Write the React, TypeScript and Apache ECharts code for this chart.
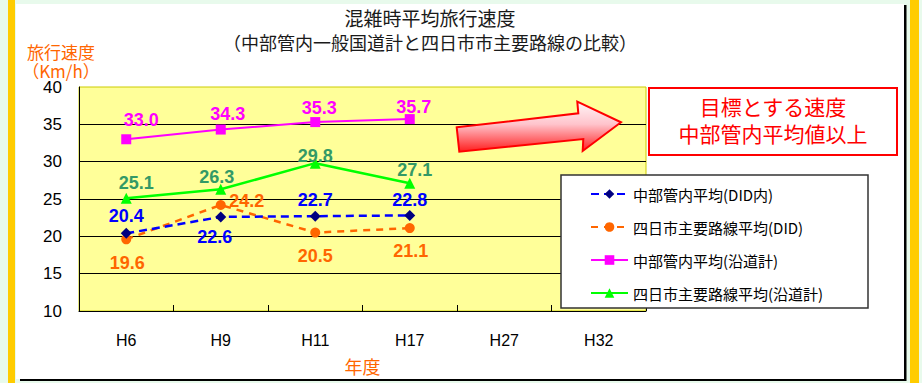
import React, { useEffect, useRef } from 'react';
import * as echarts from 'echarts';

const categories = ['H6', 'H9', 'H11', 'H17', 'H27', 'H32'];
const chubuDID = [20.4, 22.6, 22.7, 22.8];
const yokkaichiDID = [19.6, 24.2, 20.5, 21.1];
const chubuRoadside = [33.0, 34.3, 35.3, 35.7];
const yokkaichiRoadside = [25.1, 26.3, 29.8, 27.1];
const seriesNames = [
  '中部管内平均(DID内)',
  '四日市主要路線平均(DID)',
  '中部管内平均(沿道計)',
  '四日市主要路線平均(沿道計)',
];
const yMin = 10;
const yMax = 40;
const yInterval = 5;

const titleText = '混雑時平均旅行速度';
const subTitleText = '（中部管内一般国道計と四日市市主要路線の比較）';
const yNameText = '旅行速度\n（Km/h）';
const xName = '年度';
const targetText = '目標とする速度\n中部管内平均値以上';

// label offsets (pixels, relative to the marker centre)
const chubuDIDOffsets = [[0, -17], [-6, 20], [0, -16], [0, -15]];
const yokkaichiDIDOffsets = [[1, 24], [26, -4], [0, 23], [1, 23]];
const chubuRoadsideOffsets = [[15, -19], [7, -16], [4, -14], [4, -12]];
const yokkaichiRoadsideOffsets = [[10, -15], [-4, -12], [0, -7], [5, -13]];

const NUM = "'Liberation Sans', Arial, 'Noto Sans CJK JP', sans-serif";
const JP = "'Noto Sans CJK JP', 'Liberation Sans', sans-serif";

function mk(values: number[], offsets: number[][]) {
  return values.map((v, i) => ({ value: v, label: { offset: offsets[i] } }));
}

function labelCfg(color: string) {
  return {
    show: true,
    position: 'inside',
    color,
    fontSize: 18,
    fontWeight: 'bold',
    fontFamily: NUM,
    formatter: (p: any) => Number(p.value).toFixed(1),
  };
}

export default function App() {
  const ref = useRef<HTMLDivElement>(null);
  useEffect(() => {
    if (!ref.current) return;
    const chart = echarts.init(ref.current, null, { renderer: 'svg', width: 922, height: 383 });
    const arrowFill = new echarts.graphic.LinearGradient(0, 0, 0, 1, [
      { offset: 0, color: '#FFF6F8' },
      { offset: 0.45, color: '#FFC4CC' },
      { offset: 1, color: '#FF1E1E' },
    ]);
    chart.setOption({
      animation: false,
      backgroundColor: '#E8FAEC',
      title: [
        {
          text: titleText,
          left: 430,
          top: 8,
          textAlign: 'center',
          padding: 0,
          textStyle: { fontSize: 19, fontWeight: 'normal', color: '#1a1a1a', fontFamily: JP },
        },
        {
          text: subTitleText,
          left: 430,
          top: 33,
          textAlign: 'center',
          padding: 0,
          textStyle: { fontSize: 18, fontWeight: 'normal', color: '#1a1a1a', fontFamily: JP },
        },
      ],
      grid: {
        left: 79,
        top: 87,
        width: 567,
        height: 224,
        show: true,
        backgroundColor: '#FFFF99',
        borderColor: '#CCCC00',
        borderWidth: 1,
        containLabel: false,
      },
      legend: {
        orient: 'vertical',
        left: 590,
        top: 186,
        itemWidth: 37,
        itemHeight: 12,
        itemGap: 17,
        padding: 0,
        z: 20,
        data: seriesNames,
        textStyle: { fontSize: 15, lineHeight: 16, color: '#000', fontFamily: JP },
      },
      xAxis: {
        type: 'category',
        data: categories,
        boundaryGap: true,
        axisLine: { lineStyle: { color: '#000', width: 1 } },
        axisTick: { show: true, inside: true, length: 6, lineStyle: { color: '#000' } },
        axisLabel: { color: '#000', fontSize: 16, margin: 21, fontFamily: NUM },
        name: xName,
        nameLocation: 'middle',
        nameGap: 46,
        nameTextStyle: { color: '#FF6600', fontSize: 18, fontFamily: JP },
      },
      yAxis: {
        type: 'value',
        min: yMin,
        max: yMax,
        interval: yInterval,
        axisLine: { show: true, lineStyle: { color: '#000', width: 1 } },
        axisTick: { show: false },
        axisLabel: { color: '#000', fontSize: 17, margin: 17, fontFamily: NUM, padding: [4, 0, 0, 0] },
        splitLine: { show: true, showMaxLine: false, lineStyle: { color: '#000', width: 1 } },
      },
      series: [
        {
          name: seriesNames[0],
          type: 'line',
          data: mk(chubuDID, chubuDIDOffsets),
          symbol: 'diamond',
          symbolSize: 11,
          lineStyle: { color: '#0000FF', width: 2.5, type: [8, 5] },
          itemStyle: { color: '#000080' },
          label: labelCfg('#0000FF'),
          z: 3,
        },
        {
          name: seriesNames[1],
          type: 'line',
          data: mk(yokkaichiDID, yokkaichiDIDOffsets),
          symbol: 'circle',
          symbolSize: 10,
          lineStyle: { color: '#FF6600', width: 2.5, type: [7, 6] },
          itemStyle: { color: '#FF6600' },
          label: labelCfg('#FF6600'),
          z: 2,
        },
        {
          name: seriesNames[2],
          type: 'line',
          data: mk(chubuRoadside, chubuRoadsideOffsets),
          symbol: 'rect',
          symbolSize: 10,
          lineStyle: { color: '#FF00FF', width: 2 },
          itemStyle: { color: '#FF00FF' },
          label: labelCfg('#FF00FF'),
          z: 2,
        },
        {
          name: seriesNames[3],
          type: 'line',
          data: mk(yokkaichiRoadside, yokkaichiRoadsideOffsets),
          symbol: 'triangle',
          symbolSize: 11,
          lineStyle: { color: '#00FF00', width: 2.5 },
          itemStyle: { color: '#00FF00' },
          label: labelCfg('#339966'),
          z: 2,
        },
      ],
      graphic: [
        { type: 'rect', z: -20, shape: { x: 8, y: 0, width: 7, height: 383 }, style: { fill: '#FFCC00' } },
        { type: 'rect', z: -20, shape: { x: 910, y: 0, width: 9, height: 383 }, style: { fill: '#FFCC00' } },
        { type: 'rect', z: -20, shape: { x: 904, y: 5, width: 2.5, height: 376 }, style: { fill: '#000' } },
        { type: 'rect', z: -20, shape: { x: 20, y: 378.5, width: 886, height: 2.5 }, style: { fill: '#000' } },
        { type: 'rect', z: -19, shape: { x: 16, y: 4, width: 888, height: 375 }, style: { fill: '#FFFFFF' } },
        {
          type: 'text',
          z: 5,
          style: { text: yNameText, x: 61, y: 61, align: 'center', verticalAlign: 'middle', fill: '#FF6600', fontSize: 17, lineHeight: 19, fontFamily: JP },
        },
        {
          type: 'polygon',
          z: 10,
          shape: {
            points: [
              [456.7, 127.3],
              [578.3, 113.3],
              [577.3, 101.7],
              [621, 122.3],
              [582.7, 151],
              [583.3, 139],
              [459.3, 151.7],
            ],
          },
          style: { fill: arrowFill, stroke: '#FF0000', lineWidth: 2 },
        },
        {
          type: 'rect',
          z: 10,
          shape: { x: 649, y: 88, width: 248, height: 67 },
          style: { fill: '#FFFFFF', stroke: '#FF0000', lineWidth: 2 },
        },
        {
          type: 'text',
          z: 11,
          style: { text: targetText, x: 773, y: 119.5, align: 'center', verticalAlign: 'middle', fill: '#FF0000', fontSize: 21, lineHeight: 27, fontFamily: JP },
        },
        {
          type: 'rect',
          z: 10,
          shape: { x: 561, y: 175, width: 307, height: 133 },
          style: { fill: '#FFFFFF', stroke: '#333333', lineWidth: 1.5 },
        },
      ],
    });
    return () => chart.dispose();
  }, []);
  return (
    <div
      ref={ref}
      style={{ position: 'fixed', left: 0, top: 0, width: 922, height: 383 }}
    />
  );
}
